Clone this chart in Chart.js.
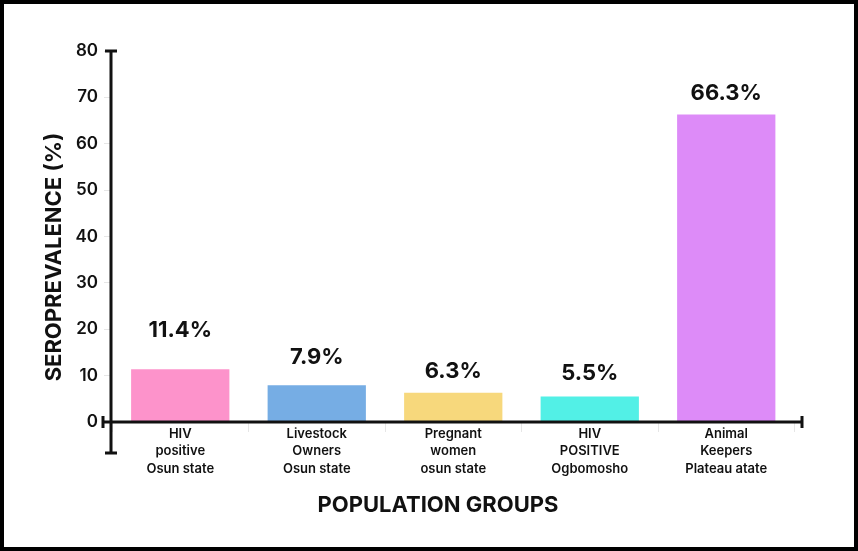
<!DOCTYPE html>
<html>
<head>
<meta charset="utf-8">
<script src="https://cdn.jsdelivr.net/npm/chart.js@4.4.1/dist/chart.umd.min.js"></script>
<style>
  html, body { margin: 0; padding: 0; background: #fff; }
  #chart { display: block; }
</style>
</head>
<body>
<canvas id="chart" width="858" height="551"></canvas>
<script>
const populationGroups = [
    ['HIV', 'positive', 'Osun state'],
    ['Livestock', 'Owners', 'Osun state'],
    ['Pregnant', 'women', 'osun state'],
    ['HIV', 'POSITIVE', 'Ogbomosho'],
    ['Animal', 'Keepers', 'Plateau atate']
]
const seroprevalence = [11.4, 7.9, 6.3, 5.5, 66.3]
const yTicks = [0, 10, 20, 30, 40, 50, 60, 70, 80]

const barColors = ['#fd93cb', '#76ade4', '#f7d87c', '#52f0e6', '#dd8bf8']
// how far each % label floats above its bar (px), as in the picture
const labelGap = [32, 21, 15, 16, 15]
const ink = '#111'

const frameAndAxes = {
    id: 'frameAndAxes',
    afterDatasetsDraw(chart) {
        let ctx = chart.ctx
        let area = chart.chartArea
        let y0 = chart.scales.y.getPixelForValue(yTicks[0])
        let yTop = chart.scales.y.getPixelForValue(yTicks[yTicks.length - 1])
        let ax = area.left - 1
        ctx.save()
        ctx.strokeStyle = ink
        ctx.lineWidth = 3
        ctx.lineCap = 'butt'
        ctx.beginPath()
        // y axis with caps
        ctx.moveTo(ax, yTop)
        ctx.lineTo(ax, y0 + 31)
        ctx.moveTo(ax - 6, yTop)
        ctx.lineTo(ax + 6, yTop)
        ctx.moveTo(ax - 6, y0 + 31)
        ctx.lineTo(ax + 6, y0 + 31)
        // x axis with caps
        ctx.moveTo(ax - 8, y0)
        ctx.lineTo(802, y0)
        ctx.moveTo(ax - 8, y0 - 6)
        ctx.lineTo(ax - 8, y0 + 6)
        ctx.moveTo(802, y0 - 6)
        ctx.lineTo(802, y0 + 6)
        ctx.stroke()

        // % labels over bars
        ctx.fillStyle = ink
        ctx.font = 'bold 22px Inter'
        ctx.textAlign = 'center'
        ctx.textBaseline = 'alphabetic'
        chart.getDatasetMeta(0).data.forEach((bar, i) => {
            ctx.fillText(seroprevalence[i].toFixed(1) + '%', bar.x, bar.y - labelGap[i])
        })
        ctx.restore()
    },
    afterDraw(chart) {
        let ctx = chart.ctx
        ctx.save()
        ctx.fillStyle = ink
        ctx.font = 'bold 22px Inter'
        ctx.textAlign = 'center'
        ctx.textBaseline = 'middle'
        ctx.fillText('POPULATION GROUPS', 438, 505)
        ctx.translate(54, 257)
        ctx.rotate(-Math.PI / 2)
        ctx.fillText('SEROPREVALENCE (%)', 0, 0)
        ctx.restore()

        ctx.save()
        ctx.strokeStyle = '#000'
        ctx.lineWidth = 8
        ctx.strokeRect(0, 0, chart.width, chart.height)
        ctx.restore()
    }
}

const drawChart = () => {
    new Chart(document.getElementById('chart'), {
        type: 'bar',
        data: {
            labels: populationGroups,
            datasets: [{
                data: seroprevalence,
                backgroundColor: barColors,
                borderWidth: 0,
                categoryPercentage: 1,
                barPercentage: 0.72
            }]
        },
        options: {
            responsive: false,
            animation: false,
            devicePixelRatio: 1,
            layout: { padding: { left: 0, top: 51, right: 63.5, bottom: 0 } },
            plugins: {
                legend: { display: false },
                tooltip: { enabled: false }
            },
            scales: {
                x: {
                    afterFit: s => { s.height = 129 },
                    border: { display: false },
                    grid: { drawOnChartArea: false, tickLength: 10, color: '#e6e6e6', offset: true },
                    ticks: {
                        color: ink,
                        padding: -7,
                        maxRotation: 0,
                        font: { family: 'Inter', size: 13, weight: '600', lineHeight: 1.35 }
                    }
                },
                y: {
                    min: yTicks[0],
                    max: yTicks[yTicks.length - 1],
                    afterFit: s => { s.width = 112 },
                    afterBuildTicks: s => { s.ticks = yTicks.map(v => ({ value: v })) },
                    border: { display: false },
                    grid: { drawOnChartArea: false, tickLength: 8, color: '#e6e6e6' },
                    ticks: {
                        color: ink,
                        padding: 6,
                        font: { family: 'Inter', size: 17, weight: '600' }
                    }
                }
            }
        },
        plugins: [frameAndAxes]
    })
}

document.fonts.load('bold 22px Inter').then(drawChart, drawChart)
</script>
</body>
</html>
